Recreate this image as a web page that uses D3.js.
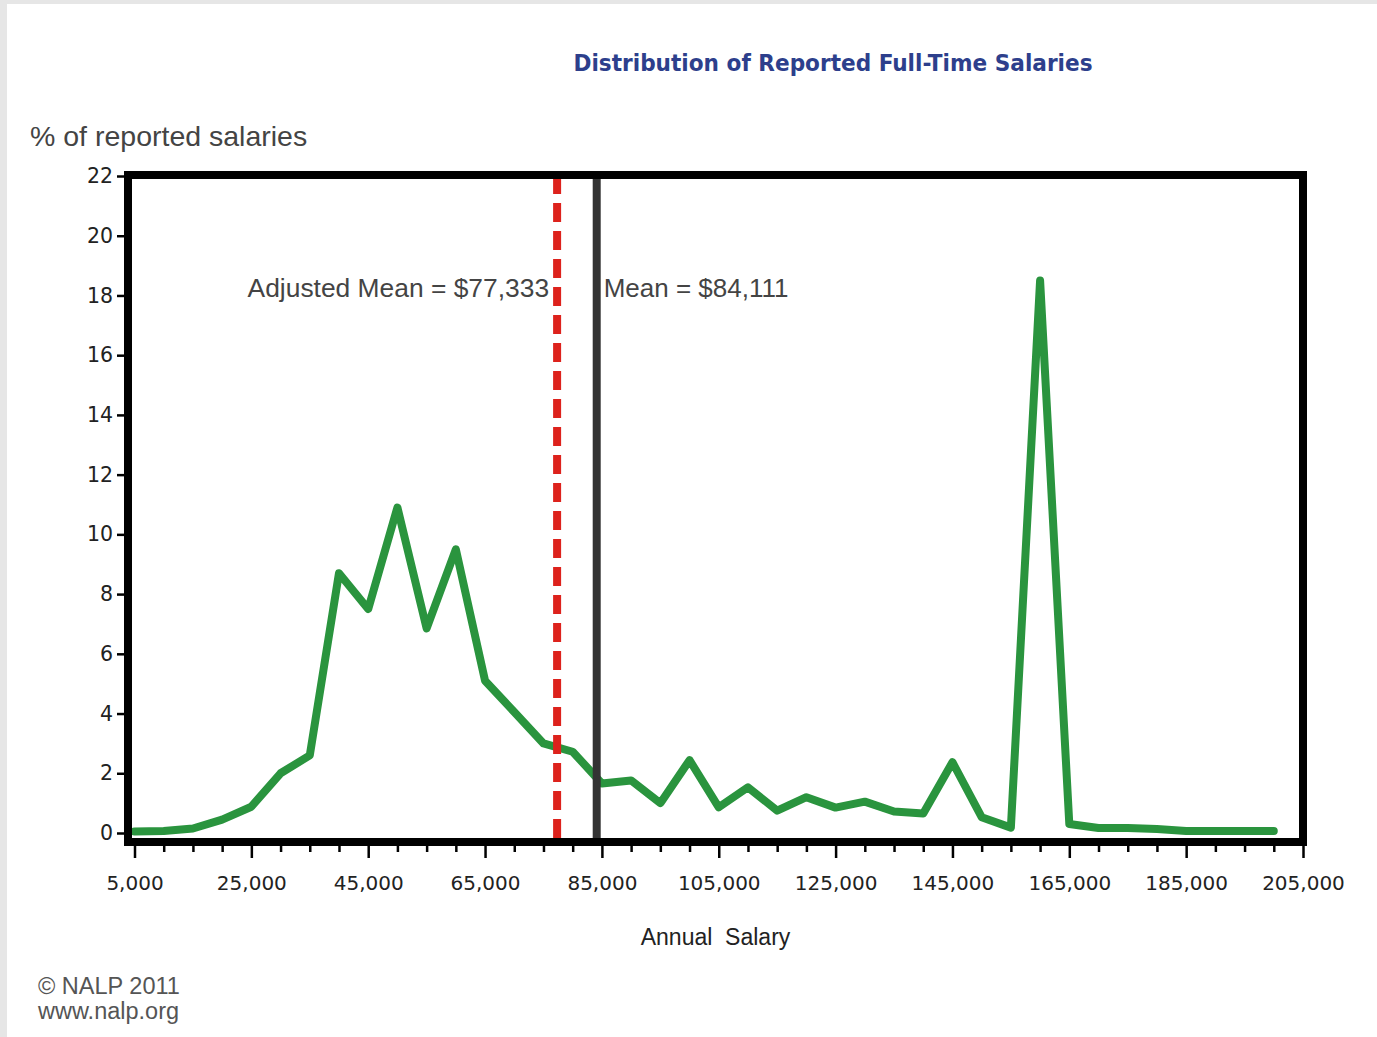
<!DOCTYPE html>
<html>
<head>
<meta charset="utf-8">
<script src="https://cdn.jsdelivr.net/npm/d3@7/dist/d3.min.js"></script>
<style>
  html, body { margin: 0; padding: 0; background: #ffffff; }
  svg { display: block; }
</style>
</head>
<body>
<script>
// ---- data ----
const salaries = [5000, 10000, 15000, 20000, 25000, 30000, 35000, 40000, 45000, 50000,
  55000, 60000, 65000, 70000, 75000, 80000, 85000, 90000, 95000, 100000,
  105000, 110000, 115000, 120000, 125000, 130000, 135000, 140000, 145000, 150000,
  155000, 160000, 165000, 170000, 175000, 180000, 185000, 190000, 195000, 200000];
const percents = [0.05, 0.07, 0.15, 0.45, 0.88, 2.0, 2.6, 8.7, 7.5, 10.9,
  6.85, 9.5, 5.1, 4.05, 3.0, 2.72, 1.66, 1.76, 1.0, 2.44,
  0.86, 1.53, 0.75, 1.2, 0.85, 1.05, 0.72, 0.65, 2.37, 0.53,
  0.18, 18.5, 0.3, 0.17, 0.17, 0.13, 0.07, 0.07, 0.07, 0.07];
const xMajorTicks = [5000, 25000, 45000, 65000, 85000, 105000, 125000, 145000, 165000, 185000, 205000];
const xMinorTicks = [10000, 15000, 20000, 30000, 35000, 40000, 50000, 55000, 60000, 70000, 75000, 80000,
  90000, 95000, 100000, 110000, 115000, 120000, 130000, 135000, 140000, 150000, 155000, 160000,
  170000, 175000, 180000, 190000, 195000, 200000];
const yTicks = [0, 2, 4, 6, 8, 10, 12, 14, 16, 18, 20, 22];
const meanLines = [
  { label: "Adjusted Mean = $77,333", value: 77333, kind: "adjusted" },
  { label: "Mean = $84,111", value: 84111, kind: "mean" }
];
const titleText = "Distribution of Reported Full-Time Salaries";
const yTitle = "% of reported salaries";
const xTitle = "Annual  Salary";
const footer = ["© NALP 2011", "www.nalp.org"];

// ---- layout ----
const W = 1377, H = 1037;
const frame = { left: 128, right: 1303, top: 175, bottom: 842 };
const x = d3.scaleLinear().domain([5000, 205000]).range([134.5, 1303]);
const y = d3.scaleLinear().domain([0, 22]).range([833, 176]);

const svg = d3.select("body").append("svg").attr("width", W).attr("height", H);
svg.append("rect").attr("width", W).attr("height", H).attr("fill", "#ffffff");
svg.append("rect").attr("x", 0).attr("y", 0).attr("width", W).attr("height", 4).attr("fill", "#e6e6e6");
svg.append("rect").attr("x", 0).attr("y", 0).attr("width", 7).attr("height", H).attr("fill", "#e6e6e6");

// title
svg.append("text")
  .attr("x", 833).attr("y", 71)
  .attr("text-anchor", "middle")
  .attr("font-family", "'DejaVu Sans Condensed', 'DejaVu Sans', sans-serif")
  .attr("font-weight", "bold")
  .attr("font-size", 23)
  .attr("textLength", 519).attr("lengthAdjust", "spacingAndGlyphs")
  .attr("fill", "#2d3f8c")
  .text(titleText);

// y title
svg.append("text")
  .attr("x", 30).attr("y", 146)
  .attr("font-family", "'Liberation Sans', Arial, sans-serif")
  .attr("font-size", 28.5)
  .attr("fill", "#444")
  .text(yTitle);

// green line
const line = d3.line().x((d, i) => x(salaries[i])).y(d => y(d));
svg.append("path")
  .datum(percents)
  .attr("d", line)
  .attr("fill", "none")
  .attr("stroke", "#2a943e")
  .attr("stroke-width", 8)
  .attr("stroke-linejoin", "round")
  .attr("stroke-linecap", "round");

// mean lines
meanLines.forEach(m => {
  const l = svg.append("line")
    .attr("x1", x(m.value)).attr("x2", x(m.value))
    .attr("y1", frame.top).attr("y2", frame.bottom)
    .attr("stroke-width", 8);
  if (m.kind === "adjusted") {
    l.attr("stroke", "#dd221c").attr("stroke-dasharray", "19,9");
    svg.append("text")
      .attr("x", x(m.value) - 8).attr("y", 297)
      .attr("text-anchor", "end")
      .attr("font-family", "'Liberation Sans', Arial, sans-serif")
      .attr("font-size", 26.4).attr("fill", "#444")
      .text(m.label);
  } else {
    l.attr("stroke", "#333333");
    svg.append("text")
      .attr("x", x(m.value) + 7).attr("y", 297)
      .attr("text-anchor", "start")
      .attr("font-family", "'Liberation Sans', Arial, sans-serif")
      .attr("font-size", 26).attr("fill", "#444")
      .text(m.label);
  }
});

// frame
svg.append("rect")
  .attr("x", frame.left).attr("y", frame.top)
  .attr("width", frame.right - frame.left).attr("height", frame.bottom - frame.top)
  .attr("fill", "none").attr("stroke", "#000").attr("stroke-width", 8);

// y axis
const yAxis = svg.append("g")
  .attr("transform", `translate(${frame.left - 4},0)`)
  .call(d3.axisLeft(y).tickValues(yTicks).tickSize(7).tickPadding(4).tickFormat(d3.format("d")));
yAxis.select(".domain").remove();
yAxis.selectAll(".tick line").attr("stroke", "#000").attr("stroke-width", 2.5);
yAxis.selectAll(".tick text")
  .attr("font-family", "'DejaVu Sans', Verdana, sans-serif")
  .attr("font-size", 20.5).attr("fill", "#222");

// x axis minor
const xMinor = svg.append("g")
  .attr("transform", `translate(0,${frame.bottom + 4})`)
  .call(d3.axisBottom(x).tickValues(xMinorTicks).tickSize(6).tickFormat(""));
xMinor.select(".domain").remove();
xMinor.selectAll(".tick line").attr("stroke", "#000").attr("stroke-width", 2.5);

// x axis major
const xMajor = svg.append("g")
  .attr("transform", `translate(0,${frame.bottom + 4})`)
  .call(d3.axisBottom(x).tickValues(xMajorTicks).tickSize(12).tickPadding(18).tickFormat(d3.format(",")));
xMajor.select(".domain").remove();
xMajor.selectAll(".tick line").attr("stroke", "#000").attr("stroke-width", 2.5);
xMajor.selectAll(".tick text")
  .attr("font-family", "'DejaVu Sans', Verdana, sans-serif")
  .attr("font-size", 20).attr("fill", "#222");

// x title
svg.append("text")
  .attr("x", (frame.left + frame.right) / 2).attr("y", 945)
  .attr("text-anchor", "middle")
  .attr("font-family", "'Liberation Sans', Arial, sans-serif")
  .attr("font-size", 23).attr("fill", "#222")
  .style("white-space", "pre")
  .text(xTitle);

// footer
footer.forEach((t, i) => {
  svg.append("text")
    .attr("x", 38).attr("y", 994 + i * 25)
    .attr("font-family", "'Liberation Sans', Arial, sans-serif")
    .attr("font-size", 23.5).attr("fill", "#555")
    .text(t);
});
</script>
</body>
</html>
